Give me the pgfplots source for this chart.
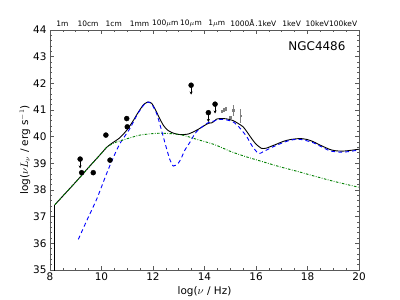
\documentclass[border=0pt]{standalone}
\usepackage{pgfplots}
\pgfplotsset{compat=1.18}
\usepackage{fontspec}
\setmainfont{DejaVu Sans}
\usetikzlibrary{arrows.meta}
\begin{document}
\begin{tikzpicture}
\useasboundingbox (-50bp,-30bp) rectangle (350bp,270bp);
\begin{axis}[
 at={(0,0)}, anchor=south west,
 scale only axis, width=309bp, height=240bp,
 xmin=8, xmax=20, ymin=35, ymax=44,
 xtick={8,10,...,20}, ytick={35,36,...,44},
 minor x tick num=3, minor y tick num=4,
 major tick length=4bp, minor tick length=2bp,
 tick align=inside,
 clip mode=individual,
 axis line style={black!65, line width=0.8bp},
 every tick/.style={black!65, line width=0.6bp},
 tick label style={font=\fontsize{10.5}{12}\selectfont},
 xticklabel style={yshift=1bp},
 /pgf/number format/assume math mode=true,
 xlabel={log($\nu$ / Hz)},
 ylabel={log($\nu L_\nu$ / erg s$^{-1}$)},
 label style={font=\fontsize{10.5}{12}\selectfont},
 xlabel style={at={(axis description cs:0.5,-0.088)}, anchor=center},
 ylabel style={at={(axis description cs:-0.081,0.5)}, anchor=center},
]
% vertical drop of total model
\addplot[black, line width=0.9bp] coordinates {(8.19,34) (8.19,37.45)};
% total model
\addplot[black, line width=0.9bp, smooth, tension=0.4] coordinates {
(8.19,37.45) (9.0,38.3) (9.5,38.85) (10.0,39.38) (10.2,39.6) (10.4,39.75)
(10.7,39.95) (10.98,40.24) (11.2,40.55) (11.45,40.95) (11.65,41.22) (11.82,41.30)
(11.95,41.25) (12.1,41.0) (12.25,40.7) (12.4,40.43) (12.55,40.26) (12.72,40.16)
(12.9,40.10) (13.05,40.08) (13.2,40.08) (13.37,40.10) (13.57,40.18) (13.8,40.3)
(14.0,40.42) (14.15,40.50) (14.28,40.52) (14.35,40.56) (14.47,40.66) (14.6,40.68)
(14.73,40.68) (14.9,40.66) (15.12,40.6) (15.3,40.5) (15.5,40.37) (15.65,40.18)
(15.83,39.93) (16.0,39.72) (16.22,39.56) (16.4,39.57) (16.54,39.62) (16.8,39.72)
(17.05,39.82) (17.32,39.89) (17.71,39.93) (18.0,39.89) (18.23,39.81) (18.5,39.68)
(18.87,39.52) (19.1,39.47) (19.39,39.46) (19.7,39.49) (20.0,39.53)};
% component 1 (blue dashed)
\addplot[blue, line width=0.9bp, dash pattern=on 4bp off 3bp, smooth, tension=0.4] coordinates {
(9.1,36.15) (9.45,36.9) (9.81,37.65) (10.2,38.62) (10.45,39.2) (10.72,39.75)
(11.1,40.3) (11.4,40.85) (11.65,41.2) (11.8,41.3) (11.95,41.22) (12.14,40.87)
(12.3,40.35) (12.47,39.75) (12.65,39.15) (12.79,38.9) (12.98,39.0) (13.1,39.2)
(13.24,39.5) (13.44,39.8) (13.63,40.12) (13.83,40.31) (14.08,40.49) (14.21,40.55)
(14.35,40.58) (14.47,40.62) (14.6,40.65) (14.73,40.65) (14.9,40.62) (15.12,40.55)
(15.35,40.35) (15.64,40.0) (15.85,39.65) (16.09,39.37) (16.25,39.42) (16.41,39.5)
(16.8,39.68) (17.3,39.86) (17.71,39.9) (18.23,39.77) (18.87,39.47) (19.39,39.42)
(20.0,39.5)};
% component 2 (green dash-dot)
\addplot[green!50!black, line width=0.9bp, dash pattern=on 2.5bp off 1.5bp on 0.7bp off 1.5bp, smooth, tension=0.4] coordinates {
(8.19,37.45) (9.0,38.3) (10.0,39.38) (10.2,39.6) (10.5,39.77) (10.85,39.88)
(11.5,40.06) (12.27,40.13) (13.05,40.08) (13.7,39.9) (14.4,39.7) (15.0,39.45)
(15.64,39.24) (16.3,39.05) (16.93,38.87) (17.6,38.7) (18.23,38.53) (19.0,38.33)
(19.78,38.15) (20.0,38.1)};
% detections
\addplot[only marks, mark=*, mark size=2.5bp, black] coordinates {
(9.23,38.65) (9.68,38.65) (10.17,40.06) (10.33,39.12) (10.98,40.68) (11.0,40.37)};
% upper limits
\addplot[only marks, mark=*, mark size=2.5bp, black,
 error bars/.cd, y dir=minus, y fixed=0.35, error mark=none,
 error bar style={black, line width=0.8bp, -{Stealth[length=3bp,width=3bp]}}] coordinates {
(9.17,39.16) (13.48,41.93) (14.15,40.9) (14.41,41.22)};
% grey data with error bars
\addplot[only marks, mark=square, mark size=0.8bp, gray,
 error bars/.cd, y dir=both, y explicit,
 error bar style={gray, line width=0.8bp}] coordinates {
(14.67,40.95) +- (0,0.05)
(14.75,41.0) +- (0,0.06)
(14.83,41.05) +- (0,0.05)
(14.99,40.73) +- (0,0.05)
(15.12,40.99) +- (0,0.19)
(15.40,40.79) +- (0,0.24)};
\node[anchor=east, font=\fontsize{12}{14}\selectfont] at (axis cs:19.61,43.39) {NGC4486};
\begin{scope}[every node/.style={font=\fontsize{7.5}{9}\selectfont, anchor=center, yshift=6.5bp}]
\node at (axis cs:8.477,44) {1m};
\node at (axis cs:9.477,44) {10cm};
\node at (axis cs:10.477,44) {1cm};
\node at (axis cs:11.477,44) {1mm};
\node at (axis cs:12.477,44) {100$\mu$m};
\node at (axis cs:13.477,44) {10$\mu$m};
\node at (axis cs:14.477,44) {1$\mu$m};
\node at (axis cs:15.477,44) {1000Å};
\node at (axis cs:16.383,44) {.1keV};
\node at (axis cs:17.383,44) {1keV};
\node at (axis cs:18.383,44) {10keV};
\node at (axis cs:19.383,44) {100keV};
\end{scope}
\end{axis}
\end{tikzpicture}
\end{document}
